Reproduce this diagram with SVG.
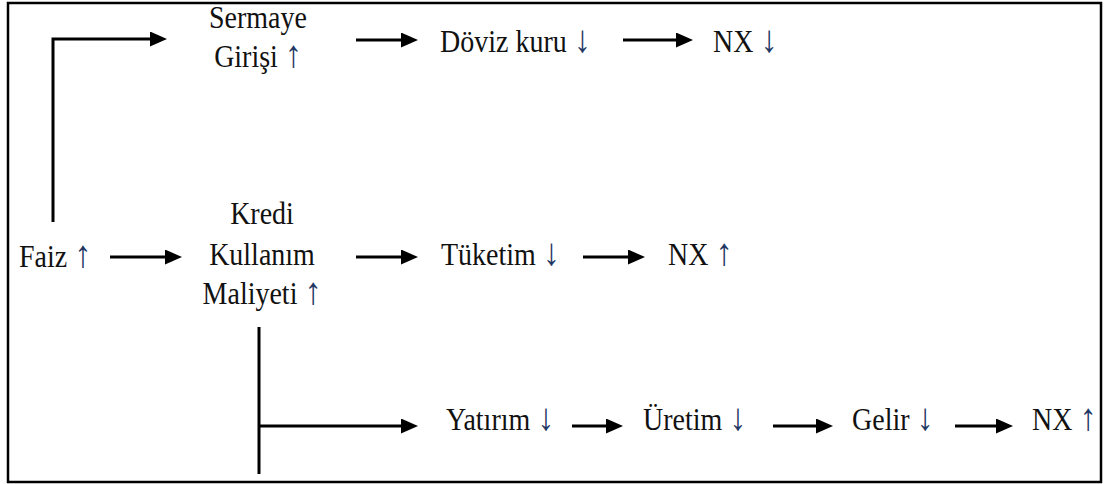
<svg xmlns="http://www.w3.org/2000/svg" width="1109" height="484" viewBox="0 0 1109 484">
  <style>
    .lbl { font-family: "Liberation Serif", "Times New Roman", serif; font-size: 28px; fill: #111; }
    .mid { text-anchor: middle; }
    .dir { fill: #1f3864; font-size: 34px; }
    .conn { stroke: #000; stroke-width: 3; fill: none; }
  </style>
  <defs>
    <marker id="head" markerUnits="userSpaceOnUse" markerWidth="18" markerHeight="16" refX="0" refY="7.5" orient="auto">
      <path d="M0,0 L17,7.5 L0,15 Z" fill="#000"/>
    </marker>
  </defs>

  <rect x="8" y="3" width="1093" height="479" fill="#fff" stroke="#000" stroke-width="2.5"/>

  <g id="connectors">
    <!-- Faiz up and over to Sermaye Girişi -->
    <path class="conn" d="M53,222 V39 H150" marker-end="url(#head)"/>
    <line class="conn" x1="356" y1="40" x2="401" y2="40" marker-end="url(#head)"/>
    <line class="conn" x1="623" y1="40" x2="676" y2="40" marker-end="url(#head)"/>
    <!-- middle row -->
    <line class="conn" x1="110" y1="257" x2="165" y2="257" marker-end="url(#head)"/>
    <line class="conn" x1="356" y1="257" x2="401" y2="257" marker-end="url(#head)"/>
    <line class="conn" x1="583" y1="257" x2="628" y2="257" marker-end="url(#head)"/>
    <!-- branch down to investment chain -->
    <line class="conn" x1="259" y1="327" x2="259" y2="474"/>
    <line class="conn" x1="259" y1="426" x2="401" y2="426" marker-end="url(#head)"/>
    <line class="conn" x1="572" y1="426" x2="606" y2="426" marker-end="url(#head)"/>
    <line class="conn" x1="773" y1="426" x2="816" y2="426" marker-end="url(#head)"/>
    <line class="conn" x1="955" y1="426" x2="996" y2="426" marker-end="url(#head)"/>
  </g>

  <!-- labels are set slightly tall: scale(1,1.12) -->
  <g id="sermaye">
    <text class="lbl mid" transform="translate(258,28) scale(1,1.12)">Sermaye</text>
    <text class="lbl mid" transform="translate(258,67) scale(1,1.12)">Girişi <tspan class="dir">↑</tspan></text>
  </g>
  <g id="doviz">
    <text class="lbl" transform="translate(440,52) scale(1,1.12)">Döviz kuru <tspan class="dir">↓</tspan></text>
  </g>
  <g id="nx1">
    <text class="lbl" transform="translate(713,52) scale(1,1.12)">NX <tspan class="dir">↓</tspan></text>
  </g>

  <g id="faiz">
    <text class="lbl" transform="translate(19,267) scale(1,1.12)">Faiz <tspan class="dir">↑</tspan></text>
  </g>
  <g id="kredi">
    <text class="lbl mid" transform="translate(262,224) scale(1,1.12)">Kredi</text>
    <text class="lbl mid" transform="translate(262,265) scale(1,1.12)">Kullanım</text>
    <text class="lbl mid" transform="translate(262,304) scale(1,1.12)">Maliyeti <tspan class="dir">↑</tspan></text>
  </g>
  <g id="tuketim">
    <text class="lbl" transform="translate(441,265) scale(1,1.12)">Tüketim <tspan class="dir">↓</tspan></text>
  </g>
  <g id="nx2">
    <text class="lbl" transform="translate(668,265) scale(1,1.12)">NX <tspan class="dir">↑</tspan></text>
  </g>

  <g id="yatirim">
    <text class="lbl" transform="translate(446,430) scale(1,1.12)">Yatırım <tspan class="dir">↓</tspan></text>
  </g>
  <g id="uretim">
    <text class="lbl" transform="translate(643,430) scale(1,1.12)">Üretim <tspan class="dir">↓</tspan></text>
  </g>
  <g id="gelir">
    <text class="lbl" transform="translate(852,430) scale(1,1.12)">Gelir <tspan class="dir">↓</tspan></text>
  </g>
  <g id="nx3">
    <text class="lbl" transform="translate(1032,430) scale(1,1.12)">NX <tspan class="dir">↑</tspan></text>
  </g>
</svg>
